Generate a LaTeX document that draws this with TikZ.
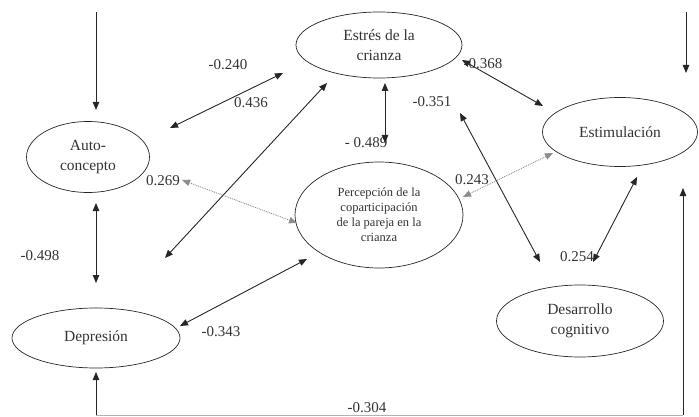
\documentclass[tikz,border=0pt]{standalone}
\usepackage{fontspec}
\setmainfont{Liberation Serif}
\usetikzlibrary{shapes.geometric,arrows.meta}

\tikzset{
  var/.style={ellipse, draw=black!85, line width=0.7pt, inner sep=0pt, align=center,
    text=black!80, font=\fontsize{15.5}{20}\selectfont},
  coef/.style={inner sep=0pt, text=black!80, font=\fontsize{15}{18}\selectfont},
  tipboth/.style={draw=black!85, line width=0.9pt,
    {Triangle[length=8pt,width=6.5pt]}-{Triangle[length=8pt,width=6.5pt]}},
  tipend/.style={draw=black!85, line width=0.9pt, -{Triangle[length=8pt,width=6.5pt]}},
  tipdot/.style={tipboth, draw=black!45, densely dotted}
}

\begin{document}
\begin{tikzpicture}[x=1pt,y=-1pt]
			%%%%% START %%%%%
			\useasboundingbox (0,0) rectangle (699,417);
			
			\node[var, minimum width=166pt, minimum height=66pt] (estres) at (379,45) {Estrés de la\\crianza};
			\node[var, minimum width=123pt, minimum height=71pt] (auto) at (88,157) {Auto-\\concepto};
			\node[var, minimum width=155pt, minimum height=69pt] (estim) at (620,132) {Estimulación};
			\node[var, minimum width=168pt, minimum height=106pt, font=\fontsize{12.5}{15}\selectfont] (perc) at (379,215)
				{Percepción de la\\coparticipación\\de la pareja en la\\crianza};
			\node[var, minimum width=168pt, minimum height=60pt] (depre) at (96,338) {Depresión};
			\node[var, minimum width=167pt, minimum height=72pt] (desa) at (580,321) {Desarrollo\\cognitivo};
			
			%%%%% COEFFICIENTS %%%%%
			\node[coef] (c1) at (228,65) {-0.240};
			\node[coef] (c2) at (251,103) {0.436};
			\node[coef] (c3) at (163,181) {0.269};
			\node[coef] (c4) at (40,256) {-0.498};
			\node[coef] (c5) at (221,332) {-0.343};
			\node[coef] (c6) at (367,408) {-0.304};
			\node[coef] (c7) at (366,143) {- 0.489};
			\node[coef] (c8) at (483,64) {-0.368};
			\node[coef] (c9) at (432,102) {-0.351};
			\node[coef] (c10) at (472,180) {0.243};
			\node[coef] (c11) at (577,257) {0.254};
			
			%%%%% END POINTS %%%%%
			\coordinate (tl) at (96,12);    \coordinate (tla) at (96,110);
			\coordinate (tr) at (686,12);   \coordinate (tra) at (686,73);
			\coordinate (ad1) at (96,203);  \coordinate (ad2) at (96,283);
			\coordinate (ae1) at (170,128); \coordinate (ae2) at (283,73);
			\coordinate (le1) at (165,258); \coordinate (le2) at (327,83);
			\coordinate (ap1) at (182,180); \coordinate (ap2) at (297,223);
			\coordinate (dp1) at (180,326); \coordinate (dp2) at (307,259);
			\coordinate (ep1) at (385,83);  \coordinate (ep2) at (385,143);
			\coordinate (es1) at (462,60);  \coordinate (es2) at (543,106);
			\coordinate (cd1) at (460,113); \coordinate (cd2) at (540,262);
			\coordinate (ps1) at (463,197); \coordinate (ps2) at (553,153);
			\coordinate (sd1) at (637,177); \coordinate (sd2) at (593,262);
			\coordinate (bl) at (96,415);   \coordinate (bla) at (96,372);
			\coordinate (br) at (683,415);  \coordinate (bra) at (683,188);
			
			%%%%% CONNECTORS %%%%%
			\draw[tipend] (tl) -- (tla);
			\draw[tipend] (tr) -- (tra);
			\draw[tipboth] (ad1) -- (ad2);
			\draw[tipboth] (ae1) -- (ae2);
			\draw[tipboth] (le1) -- (le2);
			\draw[tipdot] (ap1) -- (ap2);
			\draw[tipboth] (dp1) -- (dp2);
			\draw[tipboth] (ep1) -- (ep2);
			\draw[tipboth] (es1) -- (es2);
			\draw[tipboth] (cd1) -- (cd2);
			\draw[tipdot] (ps1) -- (ps2);
			\draw[tipboth] (sd1) -- (sd2);
			
			\draw[black!30, line width=0.9pt] (bl) -- (br);
			\draw[tipend] (bl) -- (bla);
			\draw[tipend] (br) -- (bra);
			%%%%% END %%%%%
\end{tikzpicture}
\end{document}
